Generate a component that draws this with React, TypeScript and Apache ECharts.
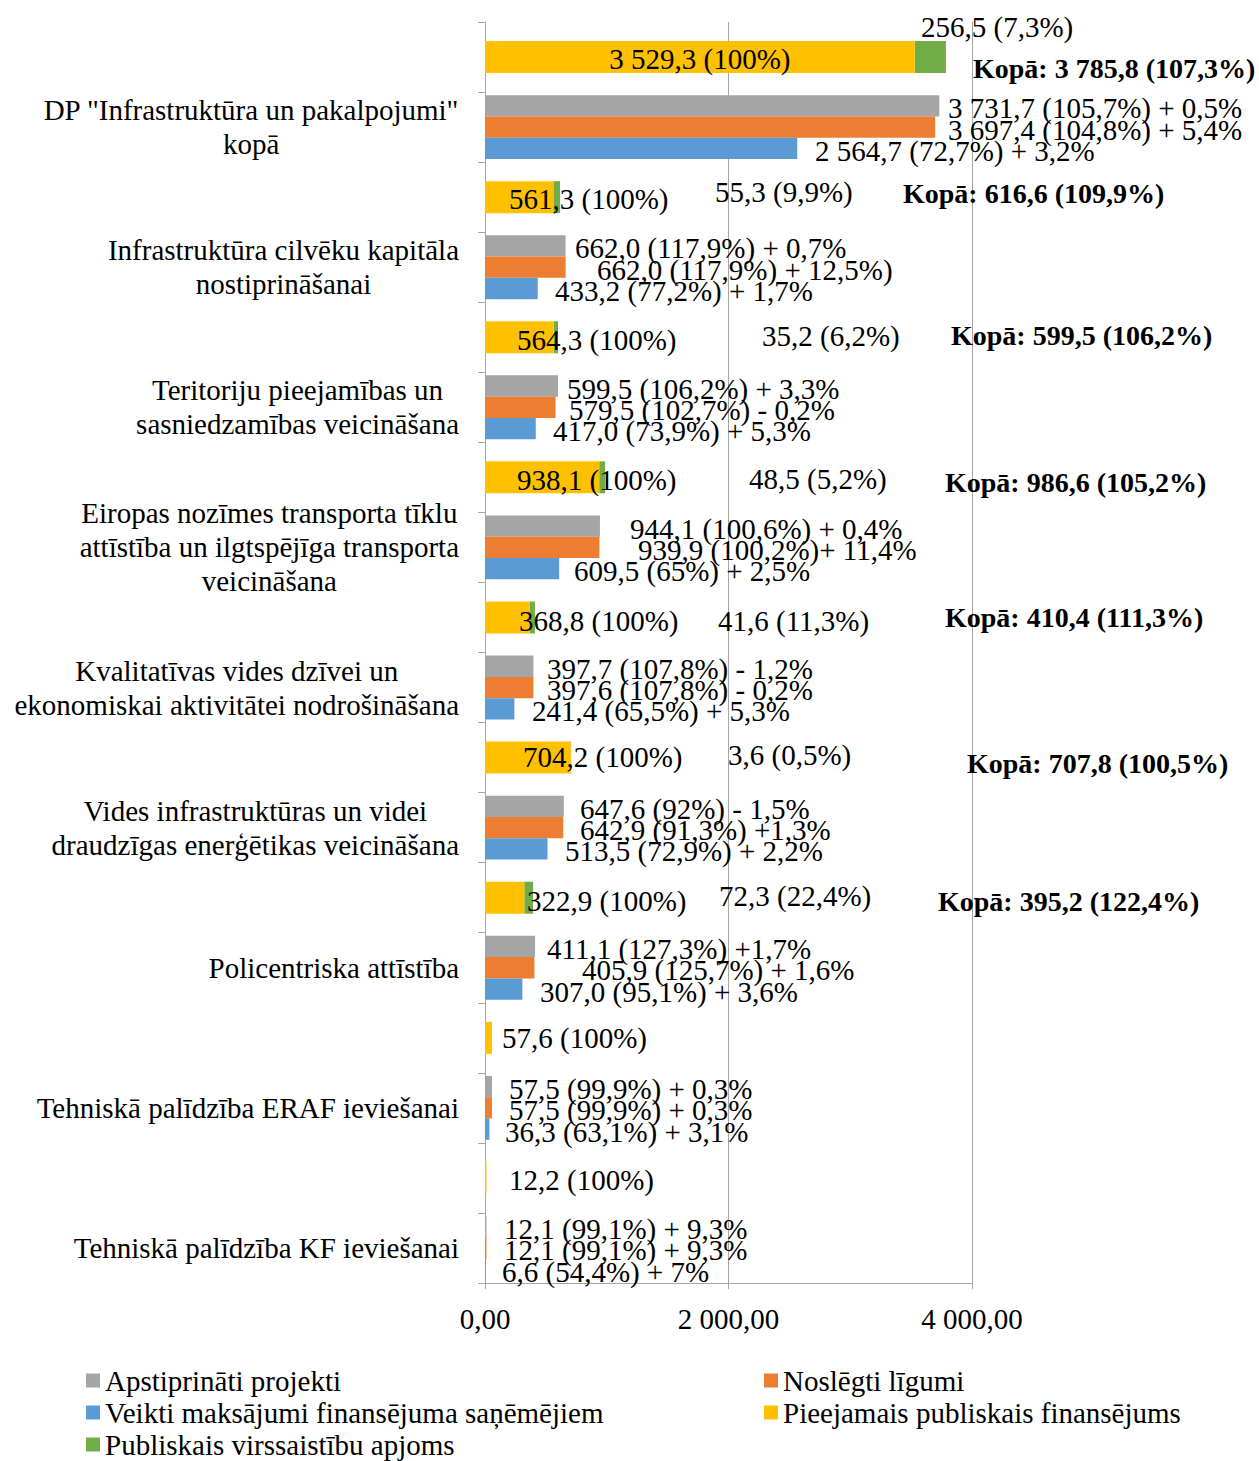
import { useEffect, useRef } from 'react';
import * as echarts from 'echarts';

// ---------- DATA ----------
const groupNames = [
  'DP "Infrastruktūra un pakalpojumi"\nkopā',
  'Infrastruktūra cilvēku kapitāla\nnostiprināšanai',
  'Teritoriju pieejamības un\nsasniedzamības veicināšana',
  'Eiropas nozīmes transporta tīklu\nattīstība un ilgtspējīga transporta\nveicināšana',
  'Kvalitatīvas vides dzīvei un\nekonomiskai aktivitātei nodrošināšana',
  'Vides infrastruktūras un videi\ndraudzīgas enerģētikas veicināšana',
  'Policentriska attīstība',
  'Tehniskā palīdzība ERAF ieviešanai',
  'Tehniskā palīdzība KF ieviešanai',
];

const seriesNames = [
  'Apstiprināti projekti',
  'Noslēgti līgumi',
  'Veikti maksājumi finansējuma saņēmējiem',
  'Pieejamais publiskais finansējums',
  'Publiskais virssaistību apjoms',
];

const available = [3529.3, 561.3, 564.3, 938.1, 368.8, 704.2, 322.9, 57.6, 12.2];
const overcommit: (number | null)[] = [256.5, 55.3, 35.2, 48.5, 41.6, 3.6, 72.3, null, null];
const approved = [3731.7, 662.0, 599.5, 944.1, 397.7, 647.6, 411.1, 57.5, 12.1];
const contracts = [3697.4, 662.0, 579.5, 939.9, 397.6, 642.9, 405.9, 57.5, 12.1];
const payments = [2564.7, 433.2, 417.0, 609.5, 241.4, 513.5, 307.0, 36.3, 6.6];

const availableLabels = [
  '3 529,3 (100%)', '561,3 (100%)', '564,3 (100%)', '938,1 (100%)', '368,8 (100%)',
  '704,2 (100%)', '322,9 (100%)', '57,6 (100%)', '12,2 (100%)',
];
const overcommitLabels: (string | null)[] = [
  '256,5 (7,3%)', '55,3 (9,9%)', '35,2 (6,2%)', '48,5 (5,2%)', '41,6 (11,3%)',
  '3,6 (0,5%)', '72,3 (22,4%)', null, null,
];
const totalLabels: (string | null)[] = [
  'Kopā: 3 785,8 (107,3%)', 'Kopā: 616,6 (109,9%)', 'Kopā: 599,5 (106,2%)',
  'Kopā: 986,6 (105,2%)', 'Kopā: 410,4 (111,3%)', 'Kopā: 707,8 (100,5%)',
  'Kopā: 395,2 (122,4%)', null, null,
];
const approvedLabels = [
  '3 731,7 (105,7%) + 0,5%', '662,0 (117,9%) + 0,7%', '599,5 (106,2%) + 3,3%',
  '944,1 (100,6%) + 0,4%', '397,7 (107,8%) - 1,2%', '647,6 (92%) - 1,5%',
  '411,1 (127,3%) +1,7%', '57,5 (99,9%) + 0,3%', '12,1 (99,1%) + 9,3%',
];
const contractLabels = [
  '3 697,4 (104,8%) + 5,4%', '662,0 (117,9%) + 12,5%)', '579,5 (102,7%) - 0,2%',
  '939,9 (100,2%)+ 11,4%', '397,6 (107,8%) - 0,2%', '642,9 (91,3%) +1,3%',
  '405,9 (125,7%) + 1,6%', '57,5 (99,9%) + 0,3%', '12,1 (99,1%) + 9,3%',
];
const paymentLabels = [
  '2 564,7 (72,7%) + 3,2%', '433,2 (77,2%) + 1,7%', '417,0 (73,9%) + 5,3%',
  '609,5 (65%) + 2,5%', '241,4 (65,5%) + 5,3%', '513,5 (72,9%) + 2,2%',
  '307,0 (95,1%) + 3,6%', '36,3 (63,1%) + 3,1%', '6,6 (54,4%) + 7%',
];

const xTickLabels = ['0,00', '2 000,00', '4 000,00'];
const X_MAX = 4000;
const X_INTERVAL = 2000;

// ---------- LAYOUT (label placement, px from the value axis origin) ----------
const availableLabelX = [null, 24, 32, 32, 34, 38, 42, 17, 24];
const availableLabelY = [2, 2, 3, 3, 4, -1, 3, 0, 2];
const overcommitLabelX = [436, 230, 277, 264, 233, 243, 234, 0, 0];
const overcommitLabelY = [-30, -5, -1, 2, 4, -3, -2, 0, 0];
const totalLabelX = [488, 418, 466, 460, 460, 482, 453, 0, 0];
const totalLabelY = [11, -4, -2, 5, 0, 6, 4, 0, 0];
const approvedLabelX = [463, 90, 82, 145, 62, 95, 62, 24, 19];
const contractLabelX = [463, 112, 84, 153, 62, 95, 97, 24, 19];
const paymentLabelX = [330, 70, 68, 89, 47, 80, 55, 20, 17];
// legend entry positions [left, top], in series order
const legendPos = [
  [86, 1366],
  [764, 1366],
  [86, 1398],
  [764, 1398],
  [86, 1430],
];

const FONT = 'Liberation Serif';
const FS = 29;
const FS_BOLD = 28;
const COLORS = {
  gray: '#A5A5A5',
  orange: '#ED7D31',
  blue: '#5B9BD5',
  yellow: '#FFC000',
  green: '#70AD47',
  grid: '#A6A6A6',
};

const categories: string[] = [];
groupNames.forEach((n, g) => {
  categories.push('§' + g);
  categories.push(n);
});

type Item = any;
function labeledRows(values: (number | null)[], texts: (string | null)[], xs: (number | null)[], ys: number[] | number, even: boolean): Item[] {
  const out: Item[] = [];
  values.forEach((v, g) => {
    const item: Item =
      v == null || texts[g] == null
        ? '-'
        : {
            value: v,
            label: {
              formatter: texts[g] as string,
              offset: [xs[g] ?? 0, Array.isArray(ys) ? ys[g] : ys],
            },
          };
    if (even) {
      out.push(item);
      out.push('-');
    } else {
      out.push('-');
      out.push(item);
    }
  });
  return out;
}

const baseLabel = {
  show: true,
  position: 'insideLeft' as const,
  distance: 0,
  color: '#000',
  fontSize: FS,
  fontFamily: FONT,
};

export default function App() {
  const ref = useRef<HTMLDivElement>(null);

  useEffect(() => {
    if (!ref.current) return;
    const chart = echarts.init(ref.current, undefined, { renderer: 'svg' });

    const yellowData = labeledRows(available, availableLabels, availableLabelX, availableLabelY, true);
    // top group label is centred inside the bar
    yellowData[0].label = { formatter: availableLabels[0], position: 'inside', offset: [0, 2] };

    const greenData: Item[] = [];
    overcommit.forEach((v) => {
      greenData.push(v == null ? '-' : v);
      greenData.push('-');
    });

    const zeros = overcommit.map((v) => (v == null ? null : 0));

    const legendText = { color: '#000', fontSize: FS, fontFamily: FONT };

    const option: any = {
      animation: false,
      backgroundColor: '#fff',
      grid: {
        left: 485,
        top: 22,
        width: 487,
        height: 1261,
        containLabel: false,
        outerBoundsMode: 'none',
      },
      xAxis: {
        type: 'value',
        min: 0,
        max: X_MAX,
        interval: X_INTERVAL,
        axisLine: { show: true, lineStyle: { color: COLORS.grid, width: 1 } },
        axisTick: { show: true, length: 6, lineStyle: { color: COLORS.grid } },
        splitLine: { show: true, lineStyle: { color: COLORS.grid, width: 1 } },
        axisLabel: {
          margin: 21,
          color: '#000',
          fontSize: FS,
          fontFamily: FONT,
          formatter: (v: number) => xTickLabels[Math.round(v / X_INTERVAL)] ?? '',
        },
      },
      yAxis: [
        {
          type: 'category',
          data: categories,
          inverse: true,
          axisLine: { show: true, lineStyle: { color: COLORS.grid, width: 1 } },
          axisTick: { show: true, length: 7, interval: 0, alignWithLabel: false, lineStyle: { color: COLORS.grid } },
          axisLabel: {
            interval: 0,
            margin: 26,
            formatter: (v: string) =>
              v.startsWith('§') ? '' : v.split('\n').map((l) => `{c|${l}}`).join('\n'),
            rich: {
              c: {
                align: 'center',
                fontSize: FS,
                fontFamily: FONT,
                color: '#000',
                lineHeight: 34,
              },
            },
          },
        },
        {
          type: 'category',
          data: categories,
          inverse: true,
          show: false,
        },
      ],
      legend: seriesNames.map((name, i) => ({
        data: [name],
        orient: 'horizontal',
        left: legendPos[i][0],
        top: legendPos[i][1],
        padding: 0,
        itemWidth: 14,
        itemHeight: 14,
        icon: 'rect',
        selectedMode: false,
        textStyle: legendText,
      })),
      series: [
        {
          name: seriesNames[0],
          type: 'bar',
          yAxisIndex: 0,
          barWidth: 21.3,
          barGap: '0%',
          itemStyle: { color: COLORS.gray },
          label: baseLabel,
          data: labeledRows(approved, approvedLabels, approvedLabelX, 2.5, false),
        },
        {
          name: seriesNames[1],
          type: 'bar',
          yAxisIndex: 0,
          barWidth: 21.3,
          barGap: '0%',
          itemStyle: { color: COLORS.orange },
          label: baseLabel,
          data: labeledRows(contracts, contractLabels, contractLabelX, 2.5, false),
        },
        {
          name: seriesNames[2],
          type: 'bar',
          yAxisIndex: 0,
          barWidth: 21.3,
          barGap: '0%',
          itemStyle: { color: COLORS.blue },
          label: baseLabel,
          data: labeledRows(payments, paymentLabels, paymentLabelX, 2.5, false),
        },
        {
          name: seriesNames[3],
          type: 'bar',
          yAxisIndex: 1,
          stack: 'public',
          barWidth: 32,
          barGap: '-100%',
          z: 3,
          itemStyle: { color: COLORS.yellow },
          label: baseLabel,
          data: yellowData,
        },
        {
          name: seriesNames[4],
          type: 'bar',
          yAxisIndex: 1,
          stack: 'public',
          barWidth: 32,
          barGap: '-100%',
          itemStyle: { color: COLORS.green },
          data: greenData,
        },
        {
          name: 'overcommitLabel',
          type: 'bar',
          yAxisIndex: 1,
          barWidth: 32,
          barGap: '-100%',
          silent: true,
          z: 4,
          itemStyle: { color: 'rgba(0,0,0,0)' },
          label: baseLabel,
          data: labeledRows(zeros, overcommitLabels, overcommitLabelX, overcommitLabelY, true),
        },
        {
          name: 'totalLabel',
          type: 'bar',
          yAxisIndex: 1,
          barWidth: 32,
          barGap: '-100%',
          silent: true,
          z: 4,
          itemStyle: { color: 'rgba(0,0,0,0)' },
          label: { ...baseLabel, fontSize: FS_BOLD, fontWeight: 'bold' },
          data: labeledRows(zeros, totalLabels, totalLabelX, totalLabelY, true),
        },
      ],
    };

    chart.setOption(option);
    return () => chart.dispose();
  }, []);

  return (
    <div
      ref={ref}
      style={{ position: 'absolute', left: 0, top: 0, width: 1259, height: 1461, background: '#fff' }}
    />
  );
}
